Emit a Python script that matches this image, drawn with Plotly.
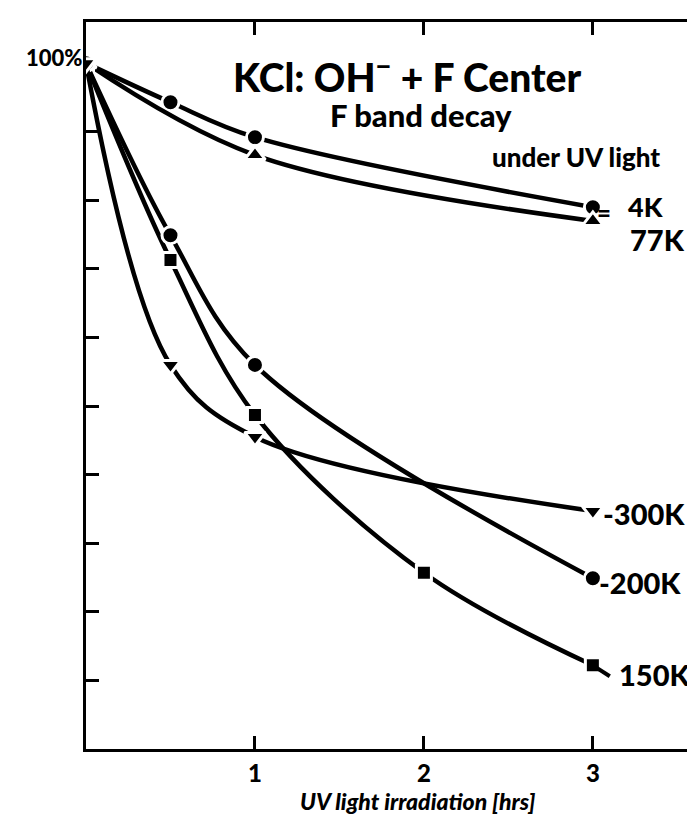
import plotly.graph_objects as go

# ---- data ----
x_4K = [0, 0.5, 1, 3]
y_4K = [100, 94.3, 89.2, 79.0]

x_77K = [0, 1, 3]
y_77K = [100, 86.6, 77.0]

x_150K = [0, 0.5, 1, 2, 3]
y_150K = [100, 71.3, 48.7, 25.7, 12.2]

x_200K = [0, 0.5, 1, 3]
y_200K = [100, 74.9, 56.0, 24.9]

x_300K = [0, 0.5, 1, 3]
y_300K = [100, 56.0, 45.5, 34.7]

x_ticks = [1, 2, 3]
y_ticks = [10, 20, 30, 40, 50, 60, 70, 80, 90]

FONT = "Lato"
W, H = 695, 818
L, R, T, B = 78, 2, 14, 77


def px(xp):
    return (xp - L) / (W - L - R)


def py(yp):
    return (H - B - yp) / (H - B - T)


fig = go.Figure()

series = [
    (x_4K, y_4K, "circle", 17, "4K"),
    (x_77K, y_77K, "triangle-up", 18, "77K"),
    (x_150K, y_150K, "square", 15, "150K"),
    (x_200K, y_200K, "circle", 17, "200K"),
    (x_300K, y_300K, "triangle-down", 18, "300K"),
]
for xs, ys, sym, sz, name in series:
    fig.add_trace(go.Scatter(
        x=xs, y=ys, mode="lines+markers", name=name,
        line=dict(color="black", width=4.5, shape="spline", smoothing=1.0),
        marker=dict(symbol=sym, size=sz, color="black",
                    line=dict(color="white", width=3)),
        showlegend=False,
    ))

lab = dict(color="black", family=FONT, weight=900)

annotations = [
    dict(text="KCl: OH<sup>−</sup> + F Center", x=px(399), y=py(66),
         font=dict(size=39, **lab)),
    dict(text="F band decay", x=px(413), y=py(107), font=dict(size=31, **lab)),
    dict(text="under UV light", x=px(568), y=py(149), font=dict(size=26, **lab)),
    dict(text="100%", x=px(76), y=py(50), xanchor="right",
         font=dict(size=22, **lab)),
    dict(text="UV light irradiation [hrs]", x=px(410), y=py(793),
         font=dict(size=23, color="black", family=FONT, weight=900,
                   style="italic")),
    # series labels
    dict(text="=", x=px(596), y=py(205), font=dict(size=24, **lab)),
    dict(text="4K", x=px(618), y=py(198), xanchor="left", font=dict(size=27, **lab)),
    dict(text="77K", x=px(620), y=py(231), xanchor="left", font=dict(size=29, **lab)),
    dict(text="-300K", x=px(593), y=py(505), xanchor="left", font=dict(size=29, **lab)),
    dict(text="-200K", x=px(589), y=py(574), xanchor="left", font=dict(size=29, **lab)),
    dict(text="150K", x=px(609), y=py(666), xanchor="left", font=dict(size=29, **lab)),
]
for a in annotations:
    a.update(xref="paper", yref="paper", showarrow=False)
    a.setdefault("xanchor", "center")
    a.setdefault("yanchor", "middle")

# slanted connector from the last 150K point to its label
fig.add_shape(type="line", x0=x_150K[-1], y0=y_150K[-1],
              x1=x_150K[-1] + 0.1, y1=y_150K[-1] - 1.6,
              line=dict(color="black", width=4))

fig.update_layout(
    width=W, height=H,
    margin=dict(l=L, r=R, t=T, b=B, autoexpand=False),
    paper_bgcolor="white", plot_bgcolor="white",
    annotations=annotations,
    xaxis=dict(range=[0, 3.64], tickvals=x_ticks, ticktext=[str(v) for v in x_ticks],
               ticks="inside", ticklen=13, tickwidth=3, tickcolor="black",
               showline=True, linecolor="black", linewidth=3, mirror="ticks",
               showgrid=False, zeroline=False, ticklabelstandoff=1,
               automargin=False,
               tickfont=dict(size=24, color="black", family=FONT, weight=900)),
    yaxis=dict(range=[0, 106], tickvals=y_ticks, showticklabels=False,
               ticks="inside", ticklen=13, tickwidth=3, tickcolor="black",
               showline=True, linecolor="black", linewidth=3, mirror="ticks",
               showgrid=False, zeroline=False, automargin=False),
)

fig.write_html("out.html")
